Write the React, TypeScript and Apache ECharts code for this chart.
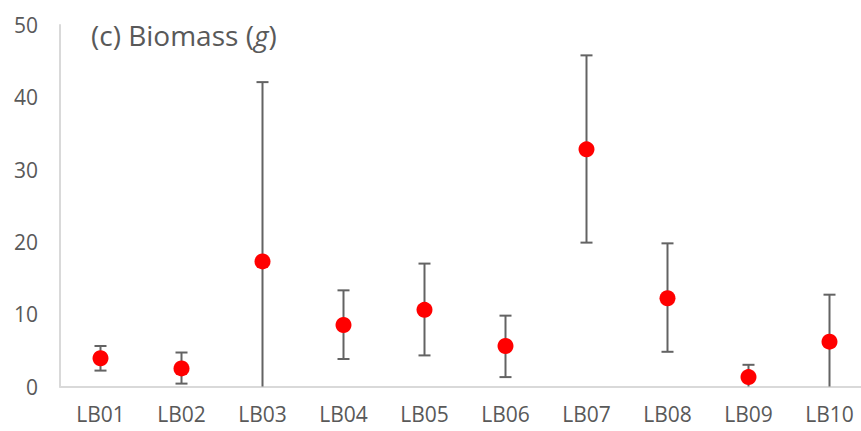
import React, { useEffect, useRef } from "react";
import * as echarts from "echarts";

const categories = ["LB01", "LB02", "LB03", "LB04", "LB05", "LB06", "LB07", "LB08", "LB09", "LB10"];
const means = [3.9, 2.5, 17.3, 8.5, 10.6, 5.6, 32.8, 12.2, 1.3, 6.2];
const lows = [2.2, 0.4, -7.5, 3.8, 4.3, 1.3, 19.9, 4.8, -0.4, -0.3];
const highs = [5.6, 4.7, 42.1, 13.3, 17.0, 9.8, 45.8, 19.8, 3.0, 12.7];
const yTicks = [0, 10, 20, 30, 40, 50];

const FONT = "'Open Sans', 'Noto Sans', sans-serif";
const GREY = "#595959";

export default function App() {
  const ref = useRef<HTMLDivElement>(null);
  useEffect(() => {
    if (!ref.current) return;
    const chart = echarts.init(ref.current, null, { renderer: "svg" });
    const errData = categories.map((c, i) => [i, lows[i], highs[i]]);
    chart.setOption({
      animation: false,
      backgroundColor: "#ffffff",
      title: {
        text: "{a|(c) Biomass (}{b|g}{a|)}",
        left: 86,
        top: 16,
        textStyle: {
          rich: {
            a: { fontFamily: FONT, fontSize: 28, color: GREY, fontWeight: "normal" },
            b: { fontFamily: FONT, fontSize: 28, color: GREY, fontStyle: "italic", fontWeight: "normal" },
          },
        },
      },
      grid: { left: 60, right: 0, top: 25, bottom: 44.5, containLabel: false },
      xAxis: {
        type: "category",
        data: categories,
        axisLine: { show: true, lineStyle: { color: "#d9d9d9", width: 2 } },
        axisTick: { show: false },
        axisLabel: { color: GREY, fontFamily: FONT, fontSize: 21, margin: 17 },
        splitLine: { show: false },
      },
      yAxis: {
        type: "value",
        min: yTicks[0],
        max: yTicks[yTicks.length - 1],
        interval: 10,
        axisLine: { show: true, lineStyle: { color: "#d9d9d9", width: 2 } },
        axisTick: { show: false },
        axisLabel: { color: GREY, fontFamily: FONT, fontSize: 21, margin: 22 },
        splitLine: { show: false },
      },
      series: [
        {
          type: "custom",
          data: errData,
          z: 1,
          renderItem: (params: any, api: any) => {
            const x = api.value(0);
            const lo = api.value(1);
            const hi = api.value(2);
            const top = api.coord([x, hi]);
            const bot = api.coord([x, lo]);
            const cs = params.coordSys;
            const yMax = cs.y + cs.height;
            const clipped = bot[1] > yMax;
            const by = clipped ? yMax : bot[1];
            const half = 6;
            const style = { stroke: "#636363", lineWidth: 2 };
            const children: any[] = [
              { type: "line", shape: { x1: top[0], y1: top[1], x2: top[0], y2: by }, style },
              { type: "line", shape: { x1: top[0] - half, y1: top[1], x2: top[0] + half, y2: top[1] }, style },
            ];
            if (!clipped) {
              children.push({ type: "line", shape: { x1: bot[0] - half, y1: by, x2: bot[0] + half, y2: by }, style });
            }
            return { type: "group", children };
          },
        },
        {
          type: "scatter",
          data: means,
          z: 2,
          symbol: "circle",
          symbolSize: 16,
          itemStyle: { color: "#ff0000", opacity: 1 },
        },
      ],
    });
    return () => chart.dispose();
  }, []);
  return (
    <div
      style={{
        position: "fixed",
        left: 0,
        top: 0,
        width: 861,
        height: 431,
        overflow: "hidden",
        background: "#ffffff",
      }}
    >
      <div ref={ref} style={{ width: 870, height: 431 }} />
    </div>
  );
}
